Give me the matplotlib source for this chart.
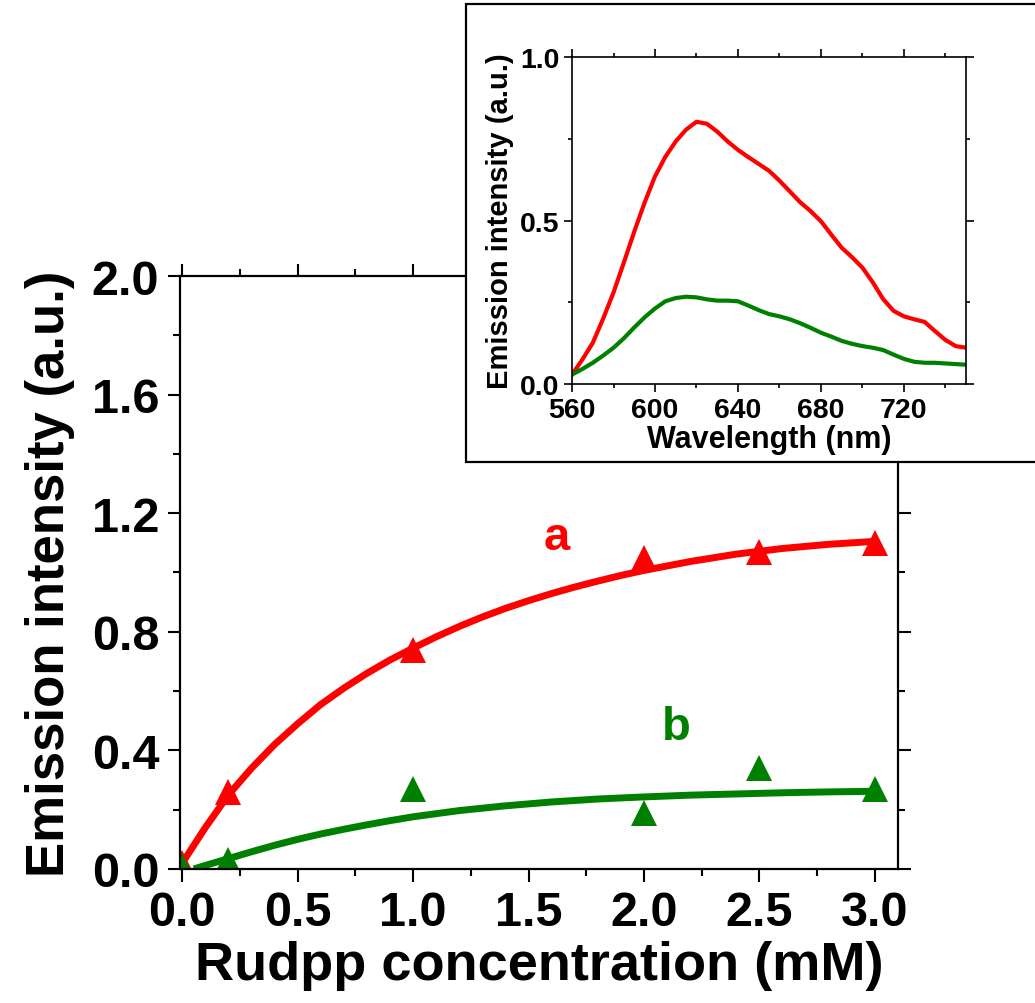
import numpy as np
import matplotlib
matplotlib.use('Agg')
import matplotlib.pyplot as plt
from matplotlib.patches import Rectangle
from matplotlib.ticker import MultipleLocator

plt.rcParams['font.family'] = ['Liberation Sans', 'DejaVu Sans']
plt.rcParams['font.weight'] = 'bold'

# main plot: measured points
conc = [0.0, 0.2, 1.0, 2.0, 2.5, 3.0]
int_a = [0.02, 0.26, 0.74, 1.05, 1.07, 1.10]
int_b = [0.01, 0.03, 0.27, 0.19, 0.34, 0.27]

# fitted curves
fit_x_a = [0.0, 0.1, 0.2, 0.3, 0.4, 0.5, 0.6, 0.7, 0.8, 0.9, 1.0, 1.1, 1.2, 1.3, 1.4, 1.5,
           1.6, 1.7, 1.8, 1.9, 2.0, 2.2, 2.4, 2.6, 2.8, 3.0]
fit_a = [0.02, 0.14, 0.25, 0.34, 0.42, 0.49, 0.555, 0.61, 0.66, 0.705, 0.745, 0.783, 0.818,
         0.85, 0.879, 0.905, 0.929, 0.951, 0.971, 0.99, 1.007, 1.037, 1.062, 1.081, 1.095, 1.105]
fit_x_b = [0.05, 0.1, 0.2, 0.3, 0.4, 0.5, 0.6, 0.7, 0.8, 0.9, 1.0, 1.2, 1.4, 1.6, 1.8, 2.0,
           2.2, 2.4, 2.6, 2.8, 3.0]
fit_b = [0.0, 0.012, 0.035, 0.058, 0.08, 0.1, 0.118, 0.134, 0.149, 0.163, 0.176, 0.197,
         0.213, 0.226, 0.236, 0.243, 0.249, 0.253, 0.257, 0.26, 0.262]

# inset: emission spectra
wl = [560, 565, 570, 575, 580, 585, 590, 595, 600, 605, 610, 615, 620, 625, 630, 635, 640,
      645, 650, 655, 660, 665, 670, 675, 680, 685, 690, 695, 700, 705, 710, 715, 720, 725,
      730, 735, 740, 745, 750]
spec_a = [0.029, 0.075, 0.126, 0.2, 0.28, 0.372, 0.466, 0.555, 0.635, 0.695, 0.742, 0.778,
          0.802, 0.796, 0.772, 0.742, 0.716, 0.694, 0.673, 0.652, 0.622, 0.589, 0.556, 0.529,
          0.498, 0.457, 0.417, 0.388, 0.356, 0.311, 0.26, 0.224, 0.207, 0.198, 0.19, 0.162,
          0.135, 0.116, 0.111]
spec_b = [0.029, 0.046, 0.065, 0.087, 0.111, 0.14, 0.173, 0.204, 0.231, 0.253, 0.263, 0.267,
          0.265, 0.259, 0.255, 0.255, 0.253, 0.24, 0.226, 0.214, 0.207, 0.198, 0.186, 0.172,
          0.157, 0.145, 0.132, 0.123, 0.116, 0.111, 0.104, 0.09, 0.077, 0.068, 0.065, 0.065,
          0.063, 0.061, 0.059]

red = '#ff0000'
green = '#008000'

fig = plt.figure(figsize=(10.35, 10.04), dpi=100)
ax = fig.add_axes([0.1739, 0.1335, 0.6937, 0.5906])

ax.plot(fit_x_a, fit_a, color=red, lw=5, solid_capstyle='butt', solid_joinstyle='round')
ax.plot(fit_x_b, fit_b, color=green, lw=5, solid_capstyle='butt', solid_joinstyle='round')
ax.plot(conc, int_a, '^', color=red, ms=19, mew=0)
ax.plot(conc, int_b, '^', color=green, ms=19, mew=0)
ax.text(1.62, 1.12, 'a', color=red, fontsize=34, fontweight='bold', ha='center', va='center')
ax.text(2.14, 0.48, 'b', color=green, fontsize=34, fontweight='bold', ha='center', va='center')

ax.set_xlim(-0.01, 3.10)
ax.set_ylim(0, 2.0)
ax.xaxis.set_major_locator(MultipleLocator(0.5))
ax.xaxis.set_minor_locator(MultipleLocator(0.25))
ax.yaxis.set_major_locator(MultipleLocator(0.4))
ax.yaxis.set_minor_locator(MultipleLocator(0.2))
ax.xaxis.set_major_formatter(plt.FormatStrFormatter('%.1f'))
ax.yaxis.set_major_formatter(plt.FormatStrFormatter('%.1f'))
ax.tick_params(which='both', direction='out', top=True, right=True, width=1.5)
ax.tick_params(which='major', length=9, labelsize=35, pad=6)
ax.tick_params(which='minor', length=5)
for s in ax.spines.values():
    s.set_linewidth(1.6)
ax.set_xlabel('Rudpp concentration (mM)', fontsize=39, fontweight='bold', labelpad=4)
ax.set_ylabel('Emission intensity (a.u.)', fontsize=38, fontweight='bold', labelpad=12)

# white frame behind the inset
box = Rectangle((466 / 1035, 1 - 463 / 1004), 0.6, 458 / 1004, transform=fig.transFigure,
                facecolor='white', edgecolor='black', lw=1.6, zorder=1)
fig.patches.append(box)

ins = fig.add_axes([0.5527, 0.6165, 0.3807, 0.3257])
ins.set_zorder(2)
ins.plot(wl, spec_a, color=red, lw=3, solid_joinstyle='round')
ins.plot(wl, spec_b, color=green, lw=3, solid_joinstyle='round')
ins.set_xlim(560, 750)
ins.set_ylim(0, 1.0)
ins.xaxis.set_major_locator(MultipleLocator(40))
ins.xaxis.set_minor_locator(MultipleLocator(20))
ins.yaxis.set_major_locator(MultipleLocator(0.5))
ins.yaxis.set_minor_locator(MultipleLocator(0.25))
ins.yaxis.set_major_formatter(plt.FormatStrFormatter('%.1f'))
ins.tick_params(which='both', direction='out', top=True, right=True, width=1.2)
ins.tick_params(which='major', length=6, labelsize=20.5, pad=3)
ins.tick_params(which='minor', length=3)
for s in ins.spines.values():
    s.set_linewidth(1.2)
ins.set_xlabel('Wavelength (nm)', fontsize=22, fontweight='bold', labelpad=1)
ins.set_ylabel('Emission intensity (a.u.)', fontsize=21, fontweight='bold', labelpad=4)

fig.savefig('out.png', dpi=100)
